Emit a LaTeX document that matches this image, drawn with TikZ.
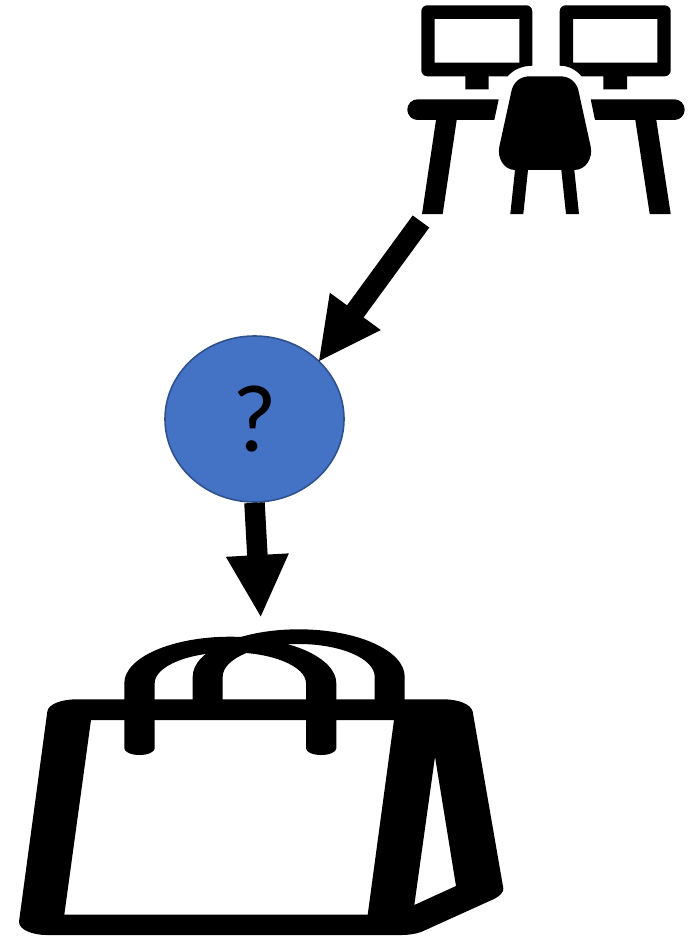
\documentclass[tikz,border=0pt]{standalone}
\usepackage{fontspec}
\setmainfont{Carlito}
\usetikzlibrary{shapes,arrows.meta,positioning}
\definecolor{qfill}{HTML}{4472C4}
\definecolor{qline}{HTML}{2F528F}
\tikzstyle{icon} = [fill=black, draw=none, even odd rule]
\tikzstyle{query} = [draw=qline, fill=qfill, ellipse, line width=1.6pt, inner sep=0pt, minimum width=179pt, minimum height=166pt, font=\fontsize{96}{96}\selectfont]
\tikzstyle{fatarrow} = [line width=20.5pt, draw=black, shorten >=-2pt, -{Triangle[length=63pt,width=58pt]}]

\begin{document}
\begin{tikzpicture}[x=1pt, y=-1pt]
    \useasboundingbox (0,0) rectangle (698,936);

    % Monitors
    \fill [icon] (532.3,65.7) [rounded corners=6pt] -- (532.3,5.3) -- (421.3,5.3) -- (421.3,76.3) [sharp corners] -- (465.3,76.3) -- (465.3,89.3) -- (488.7,89.3) -- (488.7,76.3) -- (507.7,76.3) .. controls (513,70) and (522,65.7) .. (532.3,65.7) -- cycle
        (434.7,19) rectangle (519.3,62.7);
    \fill [icon] (559.7,65.7) [rounded corners=6pt] -- (559.7,5.3) -- (670.7,5.3) -- (670.7,76.3) [sharp corners] -- (627,76.3) -- (627,89.3) -- (603.3,89.3) -- (603.3,76.3) -- (581.7,76.3) .. controls (576,70) and (569,65.7) .. (559.7,65.7) -- cycle
        (573,19) rectangle (657.3,62.7);

    % Desks
    \fill [icon] (498.7,99.3) -- (417.65,99.3) arc[start angle=270, end angle=90, radius=10.35] -- (436,120) -- (422,214) -- (442.7,214) -- (456.7,120) -- (494.3,120) -- cycle;
    \fill [icon] (590.7,99.3) -- (674.35,99.3) arc[start angle=-90, end angle=90, radius=10.35] -- (656.3,120) -- (670.7,214) -- (649.7,214) -- (635.3,120) -- (595,120) -- cycle;

    % Chair
    \fill [icon] (530,76.3) -- (560,76.3) .. controls (570,76.3) and (576,82) .. (578.3,90) -- (590.7,146.7) .. controls (593,158) and (586,170) .. (574.3,170)
        -- (579,214) -- (566,214) -- (561.3,170) -- (528,170) -- (523.3,214) -- (510.3,214) -- (515,170)
        .. controls (504,170) and (497,158) .. (499.3,146.7) -- (511.7,90) .. controls (514,82) and (520,76.3) .. (530,76.3) -- cycle;

    % Bag
    \fill [icon] (19,921.7) .. controls (19,930) and (33,935) .. (46.7,935) -- (401.7,935) .. controls (408,935) and (416,934) .. (421.7,931.7) -- (493.3,899.3) .. controls (500,896) and (504,892) .. (503.3,888.3)
        -- (472.7,711.7) .. controls (471,704) and (458,699.3) .. (443.3,699.3) -- (76.7,699.3) .. controls (62,699.3) and (48,704) .. (47.3,711.7) -- cycle
        (91,720) -- (394,720) -- (367.7,914.7) -- (64.3,914.7) -- cycle
        (435,756.7) -- (456,886) -- (414.3,905) -- cycle;

    % Handles
    \fill [icon] (192.7,705) -- (192.7,676.7) arc[start angle=180, end angle=360, x radius=106, y radius=47.4] -- (404.7,705) -- (374.7,705) -- (374.7,676.7) arc[start angle=360, end angle=180, x radius=76, y radius=32.7] -- (222.7,705) -- cycle;
    \fill [icon] (124.3,748.3) -- (124.3,683.3) arc[start angle=180, end angle=360, x radius=106, y radius=46.6] -- (336.3,748.3) arc[start angle=0, end angle=180, x radius=15.15, y radius=6.7] -- (306,683.3) arc[start angle=360, end angle=180, x radius=75.65, y radius=31] -- (154.7,748.3) arc[start angle=0, end angle=180, x radius=15.2, y radius=6.7] -- cycle;

    % Question
    \node [query] (question) at (254.5,419) {?};
    \coordinate (desk) at (421,221.5);
    \coordinate (bag) at (260.7,616);

    % Connections
    \draw [fatarrow] (desk) -- (question.42.5);
    \draw [fatarrow] (question.south) -- (bag);
\end{tikzpicture}
\end{document}
